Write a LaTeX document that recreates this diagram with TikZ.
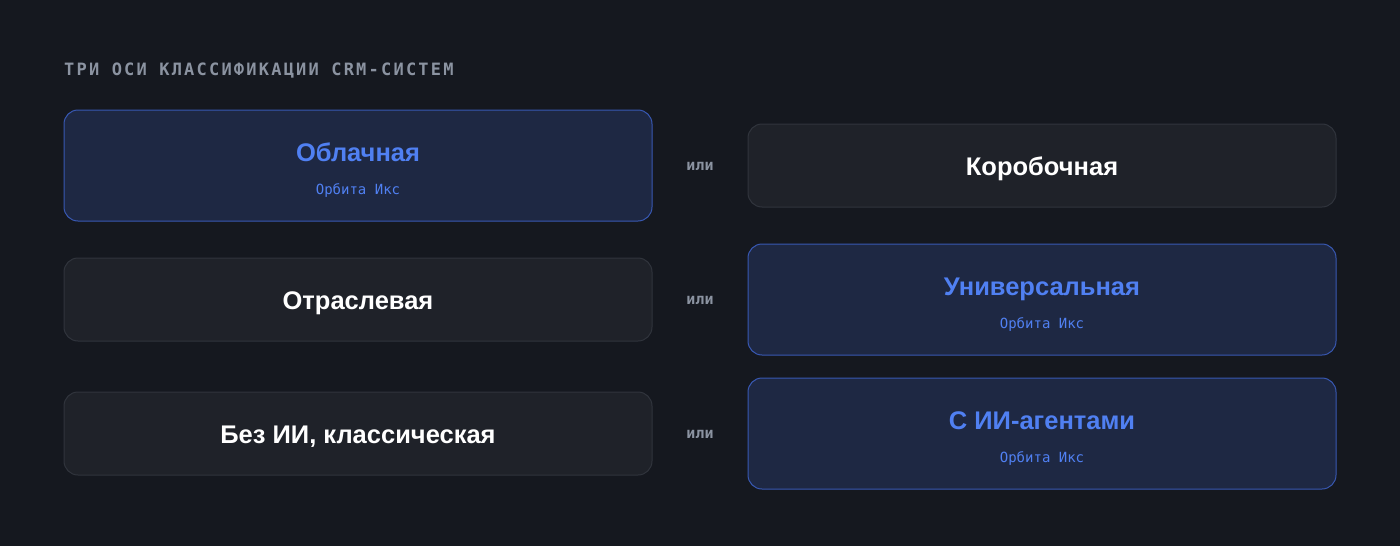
\documentclass[tikz,border=0pt]{standalone}
\usepackage{fontspec}
\setmainfont{Liberation Sans}
\setmonofont{DejaVu Sans Mono}
\newfontfamily\headmono[LetterSpace=13]{DejaVu Sans Mono}
\usetikzlibrary{positioning}

\definecolor{bgdark}{RGB}{21,24,31}
\definecolor{cardfill}{RGB}{31,34,41}
\definecolor{cardline}{RGB}{48,52,60}
\definecolor{pickfill}{RGB}{30,40,67}
\definecolor{pickline}{RGB}{56,88,178}
\definecolor{pickblue}{RGB}{80,128,242}
\definecolor{headgray}{RGB}{139,147,161}

\tikzset{
  card/.style={draw=cardline, fill=cardfill, line width=1pt, rounded corners=14pt,
    minimum width=588pt, minimum height=83pt, inner sep=0pt},
  pickcard/.style={draw=pickline, fill=pickfill, line width=1pt, rounded corners=14pt,
    minimum width=588pt, minimum height=111pt, inner sep=0pt},
  cardtitle/.style={anchor=base, font=\bfseries\fontsize{25.5}{30}\selectfont, text=white, inner sep=0pt},
  picktitle/.style={anchor=base, font=\bfseries\fontsize{25.5}{30}\selectfont, text=pickblue, inner sep=0pt},
  picksub/.style={anchor=base, font=\ttfamily\fontsize{14}{16}\selectfont, text=pickblue, inner sep=0pt},
  orword/.style={anchor=base, font=\ttfamily\bfseries\fontsize{15}{18}\selectfont, text=headgray, inner sep=0pt}
}

\begin{document}
\begin{tikzpicture}[x=1pt,y=1pt,yscale=-1]
% background
\fill [bgdark] (0,0) rectangle (1400,546);
\useasboundingbox (0,0) rectangle (1400,546);

% Text Node
\node [anchor=base west, inner sep=0pt, text=headgray, font=\headmono\bfseries\fontsize{17}{20}\selectfont] (head) at (64,75) {ТРИ ОСИ КЛАССИФИКАЦИИ CRM-СИСТЕМ};

% row 1
\node [pickcard] (cloud) at (358,165.5) {};
\node [picktitle] (cloudt) at (358,161) {Облачная};
\node [picksub] (clouds) at (358,194) {Орбита Икс};
\node [orword] (or1) at (700,170) {или};
\node [card] (boxed) at (1042,165.5) {};
\node [cardtitle] (boxedt) at (1042,175) {Коробочная};

% row 2
\node [card] (branch) at (358,299.5) {};
\node [cardtitle] (brancht) at (358,309) {Отраслевая};
\node [orword] (or2) at (700,304) {или};
\node [pickcard] (univ) at (1042,299.5) {};
\node [picktitle] (univt) at (1042,295) {Универсальная};
\node [picksub] (univs) at (1042,328) {Орбита Икс};

% row 3
\node [card] (noai) at (358,433.5) {};
\node [cardtitle] (noait) at (358,443) {Без ИИ, классическая};
\node [orword] (or3) at (700,438) {или};
\node [pickcard] (agents) at (1042,433.5) {};
\node [picktitle] (agentst) at (1042,429) {С ИИ-агентами};
\node [picksub] (agentss) at (1042,462) {Орбита Икс};

\end{tikzpicture}
\end{document}
